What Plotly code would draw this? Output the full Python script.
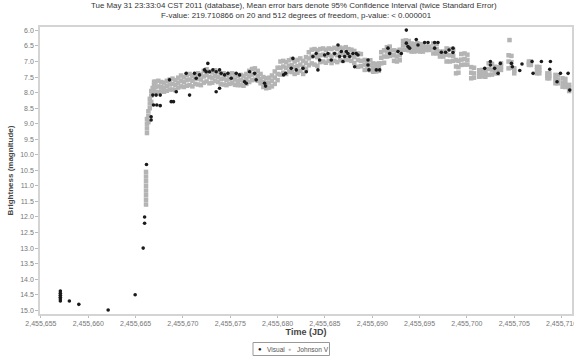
import plotly.graph_objects as go

title_lines = ["Tue May 31 23:33:04 CST 2011 (database), Mean error bars denote 95% Confidence Interval (twice Standard Error)",
               "F-value: 219.710866 on 20 and 512 degrees of freedom, p-value: < 0.000001"]
x_title = "Time (JD)"
y_title = "Brightness (magnitude)"
series_names = ["Visual", "Johnson V"]

# Visual observations (JD, magnitude)
vis_jd = [2455657.05, 2455657.05, 2455657.05, 2455657.05, 2455657.05, 2455657.05,
          2455658.00, 2455659.00, 2455662.10, 2455664.95, 2455665.80, 2455665.95, 2455665.95,
          2455666.15, 2455666.64, 2455666.64, 2455666.82, 2455667.17, 2455667.60, 2455666.89,
          2455667.24, 2455667.60, 2455668.58, 2455668.76, 2455669.00, 2455669.29, 2455670.34,
          2455670.70, 2455671.22, 2455671.40, 2455671.75, 2455672.28, 2455672.46, 2455672.63,
          2455672.81, 2455673.16, 2455673.51, 2455673.87, 2455674.04, 2455673.51, 2455673.87,
          2455674.40, 2455674.75, 2455675.10, 2455675.63, 2455675.98, 2455676.51, 2455676.69,
          2455677.04, 2455677.57, 2455677.74, 2455678.62, 2455678.73, 2455680.63, 2455680.84,
          2455681.44, 2455681.62, 2455681.97, 2455682.68, 2455683.03, 2455683.73, 2455684.08,
          2455684.26, 2455684.44, 2455684.97, 2455685.32, 2455685.67, 2455686.02, 2455686.38,
          2455686.55, 2455686.90, 2455687.26, 2455687.61, 2455688.14, 2455688.31, 2455686.73,
          2455687.08, 2455687.43, 2455687.96, 2455688.49, 2455689.55, 2455689.55, 2455689.65,
          2455690.43, 2455690.78, 2455691.66, 2455691.84, 2455692.72, 2455693.07, 2455693.60,
          2455693.60, 2455693.77, 2455693.95, 2455694.65, 2455694.83, 2455695.53, 2455695.89,
          2455696.59, 2455696.94, 2455696.59, 2455697.30, 2455697.75, 2455698.11, 2455698.53,
          2455698.53, 2455701.88, 2455702.48, 2455702.48, 2455702.93, 2455703.29, 2455703.53,
          2455704.70, 2455704.80, 2455705.58, 2455705.82, 2455706.88, 2455706.99, 2455707.87,
          2455708.82, 2455708.75, 2455709.52, 2455709.88, 2455710.69, 2455710.86]
vis_mag = [14.38, 14.45, 14.52, 14.58, 14.64, 14.70,
           14.70, 14.81, 14.99, 14.50, 13.00, 12.20, 12.00,
           10.31, 8.78, 8.88, 8.08, 8.08, 8.08, 8.40,
           8.40, 8.42, 7.59, 8.29, 8.29, 7.97, 7.38,
           8.08, 7.38, 7.54, 7.43, 7.27, 7.33, 7.06,
           7.33, 7.27, 7.33, 7.27, 7.38, 7.97, 7.86,
           7.43, 7.38, 7.54, 7.38, 7.43, 7.65, 7.70,
           7.33, 7.38, 7.59, 7.70, 7.79, 7.43, 7.38,
           7.22, 6.90, 7.27, 7.22, 7.33, 6.84, 6.74,
           7.27, 6.95, 6.79, 6.74, 6.95, 6.74, 6.47,
           6.84, 7.00, 6.68, 6.84, 7.17, 6.74, 6.68,
           6.84, 6.74, 6.74, 6.79, 6.95, 7.11, 7.27,
           7.27, 7.27, 6.57, 6.74, 6.68, 6.74, 5.99,
           6.41, 6.52, 6.57, 6.29, 6.47, 6.39, 6.39,
           6.39, 6.39, 6.57, 6.70, 6.70, 6.63, 6.57,
           6.71, 7.22, 7.00, 7.11, 7.22, 7.38, 7.06,
           7.06, 7.17, 7.29, 7.08, 7.00, 7.38, 7.00,
           7.00, 7.25, 7.65, 7.38, 7.38, 7.92]

# Johnson V observations: JD of each group and the magnitudes observed at it
jv_jd = [2455666.10, 2455666.20, 2455666.35, 2455666.50, 2455666.65, 2455666.80, 2455666.95,
         2455667.10, 2455667.40, 2455667.70, 2455668.00, 2455668.30, 2455668.60, 2455668.90,
         2455669.20, 2455669.50, 2455669.80, 2455670.10, 2455670.40, 2455670.70, 2455671.00,
         2455671.30, 2455671.60, 2455671.90, 2455672.20, 2455672.50, 2455672.80, 2455673.10,
         2455673.40, 2455673.70, 2455674.00, 2455674.30, 2455674.60, 2455674.90, 2455675.20,
         2455675.50, 2455675.80, 2455676.10, 2455676.40, 2455676.70, 2455677.00, 2455677.30,
         2455677.60, 2455677.90, 2455678.20, 2455678.50, 2455678.80, 2455679.10, 2455679.40,
         2455679.70, 2455680.00, 2455680.30, 2455680.60, 2455680.90, 2455681.20, 2455681.50,
         2455681.80, 2455682.10, 2455682.40, 2455682.70, 2455683.00, 2455683.30, 2455683.60,
         2455683.90, 2455684.20, 2455684.50, 2455684.80, 2455685.10, 2455685.40, 2455685.70,
         2455686.00, 2455686.30, 2455686.60, 2455686.90, 2455687.20, 2455687.50, 2455687.80,
         2455688.10, 2455688.50, 2455688.80, 2455689.20, 2455689.50, 2455689.80, 2455690.10,
         2455690.40, 2455690.70, 2455690.95, 2455691.25, 2455691.55, 2455691.85, 2455692.30,
         2455692.60, 2455692.90, 2455693.25, 2455693.55, 2455693.85, 2455694.15, 2455694.45,
         2455694.75, 2455695.05, 2455695.35, 2455695.65, 2455696.00, 2455696.45, 2455696.80,
         2455697.15, 2455697.50, 2455697.85, 2455698.20, 2455698.55, 2455698.85, 2455699.10,
         2455699.40, 2455699.75, 2455700.05, 2455700.45, 2455700.75, 2455701.30, 2455701.60,
         2455701.95, 2455702.30, 2455702.65, 2455702.95, 2455703.25, 2455703.60, 2455704.40,
         2455704.50, 2455704.70, 2455705.00, 2455706.55, 2455706.75, 2455707.40, 2455707.65,
         2455708.50, 2455708.70, 2455709.35, 2455709.60, 2455710.10, 2455710.40, 2455710.80]
jv_mag = [[11.60, 11.45, 11.30, 11.15, 11.00, 10.85, 10.70, 10.55],
          [9.30, 9.15, 9.00, 8.85], [8.95, 8.75, 8.60], [8.50, 8.35, 8.20],
          [8.30, 8.10, 7.95], [8.00, 7.85], [7.95, 7.75, 7.65],
          [7.65, 7.82, 8.00], [7.62, 7.80, 7.98], [7.66, 7.82, 7.96], [7.68, 7.84, 7.97],
          [7.62, 7.78, 7.94], [7.58, 7.74, 7.90], [7.55, 7.72, 7.90], [7.60, 7.76, 7.92],
          [7.52, 7.68, 7.84], [7.45, 7.62, 7.80], [7.50, 7.66, 7.82], [7.44, 7.60, 7.78],
          [7.40, 7.58, 7.76], [7.46, 7.62, 7.80], [7.40, 7.56, 7.72], [7.38, 7.55, 7.74],
          [7.42, 7.58, 7.76], [7.30, 7.48, 7.68], [7.25, 7.44, 7.64], [7.32, 7.50, 7.70],
          [7.35, 7.52, 7.68], [7.28, 7.46, 7.62], [7.34, 7.50, 7.66], [7.40, 7.56, 7.72],
          [7.38, 7.55, 7.74], [7.44, 7.60, 7.76], [7.40, 7.56, 7.72], [7.38, 7.54, 7.70],
          [7.42, 7.58, 7.75], [7.46, 7.62, 7.76], [7.43, 7.60, 7.76], [7.46, 7.62, 7.78],
          [7.40, 7.56, 7.72], [7.30, 7.48, 7.66], [7.24, 7.42, 7.60], [7.22, 7.40, 7.58],
          [7.30, 7.46, 7.62], [7.40, 7.56, 7.70], [7.50, 7.66, 7.82], [7.54, 7.70, 7.86],
          [7.52, 7.68, 7.84], [7.45, 7.62, 7.80], [7.32, 7.52, 7.72], [7.20, 7.40, 7.60],
          [7.00, 7.20, 7.42], [6.98, 7.16, 7.36], [7.02, 7.20, 7.40], [6.96, 7.14, 7.32],
          [6.92, 7.12, 7.34], [7.00, 7.18, 7.40], [6.95, 7.15, 7.36], [6.90, 7.10, 7.30],
          [6.98, 7.18, 7.40], [6.86, 7.04, 7.24], [6.70, 6.90, 7.12], [6.62, 6.84, 7.06],
          [6.60, 6.82, 7.10], [6.64, 6.86, 7.14], [6.60, 6.80, 7.02], [6.58, 6.78, 7.00],
          [6.62, 6.82, 7.04], [6.58, 6.78, 6.98], [6.60, 6.82, 7.05], [6.56, 6.76, 6.98],
          [6.60, 6.80, 7.02], [6.55, 6.75, 6.96], [6.58, 6.78, 6.98], [6.54, 6.74, 6.94],
          [6.60, 6.78, 6.95], [6.62, 6.80, 6.98], [6.66, 6.86, 7.05], [6.74, 6.95, 7.17],
          [6.76, 6.98, 7.15], [6.95, 7.10, 7.27], [6.98, 7.12, 7.26], [6.96, 7.12, 7.28],
          [7.06, 7.20, 7.33], [7.08, 7.20, 7.32], [7.06, 7.18, 7.30], [6.70, 6.88, 7.06],
          [6.64, 6.84, 7.04], [6.54, 6.68, 6.84], [6.52, 6.66, 6.82], [6.64, 6.80, 6.98],
          [6.66, 6.84, 7.00], [6.62, 6.80, 6.96], [6.34, 6.48, 6.62], [6.32, 6.46, 6.62],
          [6.34, 6.48, 6.64], [6.42, 6.54, 6.68], [6.44, 6.56, 6.68], [6.41, 6.54, 6.66],
          [6.44, 6.56, 6.68], [6.46, 6.58, 6.68], [6.52, 6.58, 6.63], [6.52, 6.58, 6.63],
          [6.42, 6.58, 6.74], [6.44, 6.60, 6.74], [6.68, 6.76, 6.84], [6.68, 6.76, 6.84],
          [6.58, 6.78, 7.00], [6.60, 6.80, 7.00], [6.62, 6.82, 6.98], [6.95, 7.16, 7.38],
          [6.98, 7.18, 7.36], [6.76, 6.94, 7.11], [6.74, 6.92, 7.10], [6.78, 6.95, 7.10],
          [7.18, 7.36, 7.54], [7.20, 7.38, 7.52], [7.28, 7.38, 7.49], [7.27, 7.38, 7.48],
          [7.30, 7.40, 7.49], [7.06, 7.24, 7.43], [7.08, 7.26, 7.42], [7.17, 7.28, 7.38],
          [7.18, 7.28, 7.38], [7.06, 7.16, 7.27], [6.80, 7.00, 7.22],
          [6.31], [6.82, 7.02, 7.20], [7.22, 7.30, 7.38], [7.00, 7.06, 7.11],
          [7.00, 7.06, 7.11], [7.17, 7.28, 7.38], [7.18, 7.28, 7.38],
          [7.38, 7.46, 7.54], [7.38, 7.46, 7.54], [7.43, 7.56, 7.70], [7.44, 7.58, 7.70],
          [7.54, 7.68, 7.81], [7.56, 7.70, 7.82], [7.75, 7.85, 7.95]]

x_ticks = [2455655, 2455660, 2455665, 2455670, 2455675, 2455680, 2455685,
           2455690, 2455695, 2455700, 2455705, 2455710]
y_ticks = [6.0, 6.5, 7.0, 7.5, 8.0, 8.5, 9.0, 9.5, 10.0, 10.5, 11.0, 11.5,
           12.0, 12.5, 13.0, 13.5, 14.0, 14.5, 15.0]

jv_x, jv_y = [], []
for d, mags in zip(jv_jd, jv_mag):
    for m in mags:
        jv_x.append(d)
        jv_y.append(m)

FONT = "Liberation Sans, Arial, sans-serif"
VIS_COLOR = "#1a1a1a"
JV_COLOR = "#b4b4b4"

# plot area in pixels: x 40..572, y 27..314
L, R, T, B = 40, 572, 27, 314
W, H = 574, 358
def px(x):
    return (x - L) / (R - L)
def py(y):
    return (B - y) / (B - T)

fig = go.Figure()
fig.add_trace(go.Scatter(
    x=jv_x, y=jv_y, mode="markers", name=series_names[1], showlegend=False,
    marker=dict(symbol="square", size=4.5, color=JV_COLOR, line=dict(width=0)),
))
fig.add_trace(go.Scatter(
    x=vis_jd, y=vis_mag, mode="markers", name=series_names[0], showlegend=False,
    marker=dict(symbol="circle", size=3.6, color=VIS_COLOR, line=dict(width=0)),
))

ann = []
ann.append(dict(text=title_lines[0], x=px(294), y=py(5.5), xref="paper", yref="paper",
                xanchor="center", yanchor="middle", showarrow=False,
                font=dict(family=FONT, size=7.9, color="#333")))
ann.append(dict(text=title_lines[1], x=px(295.5), y=py(15.5), xref="paper", yref="paper",
                xanchor="center", yanchor="middle", showarrow=False,
                font=dict(family=FONT, size=7.9, color="#333")))
# legend
ann.append(dict(text="●", x=px(259.5), y=py(349), xref="paper", yref="paper",
                xanchor="center", yanchor="middle", showarrow=False,
                font=dict(family=FONT, size=6, color=VIS_COLOR)))
ann.append(dict(text=series_names[0], x=px(264.5), y=py(349), xref="paper", yref="paper",
                xanchor="left", yanchor="middle", showarrow=False,
                font=dict(family=FONT, size=6.6, color="#555")))
ann.append(dict(text="●", x=px(289.5), y=py(349), xref="paper", yref="paper",
                xanchor="center", yanchor="middle", showarrow=False,
                font=dict(family=FONT, size=5, color=JV_COLOR)))
ann.append(dict(text=series_names[1], x=px(295), y=py(349), xref="paper", yref="paper",
                xanchor="left", yanchor="middle", showarrow=False,
                font=dict(family=FONT, size=6.6, color="#555")))

shapes = [dict(type="rect", xref="paper", yref="paper",
               x0=px(253), x1=px(329.5), y0=py(355.5), y1=py(342.5),
               line=dict(color="#999", width=1), fillcolor="rgba(0,0,0,0)")]

fig.update_layout(
    template="none",
    width=W, height=H,
    margin=dict(l=L, r=W - R, t=T, b=H - B, pad=0),
    paper_bgcolor="white", plot_bgcolor="white",
    font=dict(family=FONT, size=7, color="#555"),
    showlegend=False,
    annotations=ann, shapes=shapes,
)
fig.update_xaxes(
    range=[2455654.9, 2455711.1], tickvals=x_ticks, tickformat=",d", automargin=False,
    ticklabeloverflow="allow",
    showgrid=False, zeroline=False, showline=True, linecolor="#d4d4d4", linewidth=1.5,
    mirror=True, ticks="outside", ticklen=2, tickcolor="#bbb", tickwidth=1,
    tickfont=dict(family=FONT, size=7, color="#777"),
    title=dict(text="<b>" + x_title + "</b>", standoff=3,
               font=dict(family=FONT, size=9, color="#444")),
)
fig.update_yaxes(
    range=[15.12, 5.89], tickvals=y_ticks, tickformat=".1f", automargin=False,
    showgrid=False, zeroline=False, showline=True, linecolor="#d4d4d4", linewidth=1.5,
    mirror=True, ticks="outside", ticklen=3, tickcolor="#bbb", tickwidth=1,
    tickfont=dict(family=FONT, size=7, color="#777"),
    title=dict(text="<b>" + y_title + "</b>", standoff=5,
               font=dict(family=FONT, size=8, color="#444")),
)

fig.write_html("out.html", config={"displayModeBar": False},
               post_script="document.body.style.margin='0';document.body.style.overflow='hidden';")
